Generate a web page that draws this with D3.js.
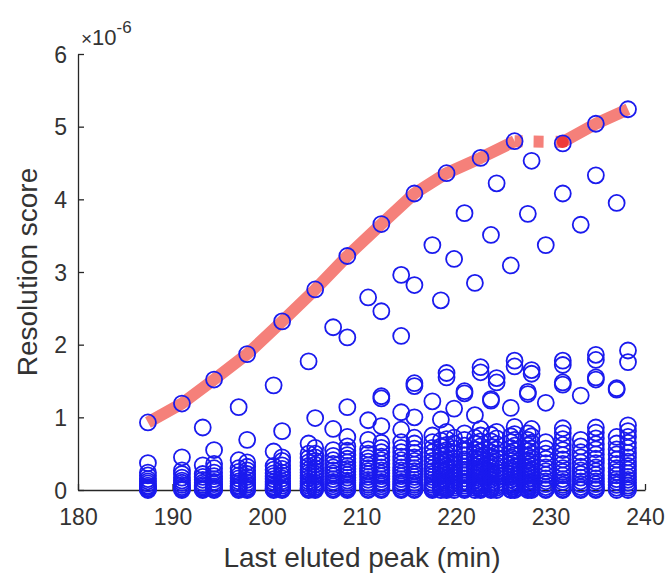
<!DOCTYPE html>
<html>
<head>
<meta charset="utf-8">
<script src="https://cdn.jsdelivr.net/npm/d3@7"></script>
<style>
  body { margin: 0; background: #fff; }
  text { font-family: "Liberation Sans", Arial, sans-serif; fill: #333; }
</style>
</head>
<body>
<div id="chart"></div>
<script>
"use strict";

// best (top) resolution score per last eluted peak
const bestTimes = [187.4, 191.0, 194.4, 197.9, 201.6, 205.1, 208.5, 212.1, 215.6, 219.0, 222.6, 226.2, 231.3, 234.8, 238.2]
const bestScores = [0.93, 1.19, 1.52, 1.87, 2.32, 2.76, 3.22, 3.66, 4.08, 4.36, 4.57, 4.80, 4.79, 5.04, 5.24]

// scatter columns (min) and the scores found in each column (x 1e-6)
const columnTimes = [187.4, 191.0, 193.2, 194.4, 197.0, 197.9, 200.7, 201.6, 204.4, 205.1,
    207.0, 208.5, 210.7, 212.1, 214.2, 215.6, 217.5, 218.4, 219.0, 219.8,
    220.9, 222.0, 222.6, 223.7, 224.3, 225.8, 226.2, 227.6, 228.0, 229.5,
    231.3, 233.2, 234.8, 237.0, 238.2]
const columnScores = [
    [0.93, 0.37, 0.24, 0.2, 0.15, 0.12, 0.09, 0.06, 0.04, 0.02, 0.01, 0.0],
    [1.19, 0.45, 0.27, 0.22, 0.17, 0.13, 0.1, 0.07, 0.04, 0.02, 0.0],
    [0.86, 0.34, 0.22, 0.18, 0.14, 0.1, 0.07, 0.05, 0.03, 0.01, 0.0],
    [1.52, 0.55, 0.36, 0.3, 0.24, 0.19, 0.15, 0.11, 0.08, 0.05, 0.03, 0.01, 0.0],
    [1.14, 0.41, 0.3, 0.25, 0.2, 0.16, 0.12, 0.09, 0.06, 0.04, 0.02, 0.0],
    [1.87, 0.69, 0.38, 0.32, 0.27, 0.22, 0.18, 0.14, 0.1, 0.07, 0.04, 0.02, 0.0],
    [1.44, 0.53, 0.33, 0.28, 0.23, 0.19, 0.15, 0.11, 0.08, 0.05, 0.03, 0.01, 0.0],
    [2.32, 0.81, 0.45, 0.4, 0.34, 0.29, 0.24, 0.2, 0.16, 0.12, 0.09, 0.06, 0.03, 0.01, 0.0],
    [1.77, 0.64, 0.5, 0.44, 0.38, 0.33, 0.28, 0.24, 0.2, 0.16, 0.12, 0.09, 0.06, 0.03, 0.01, 0.0],
    [2.76, 0.99, 0.58, 0.5, 0.45, 0.4, 0.35, 0.3, 0.26, 0.22, 0.18, 0.14, 0.1, 0.07, 0.04, 0.02, 0.0],
    [2.24, 0.84, 0.55, 0.47, 0.41, 0.36, 0.31, 0.27, 0.23, 0.19, 0.15, 0.11, 0.08, 0.05, 0.02, 0.0],
    [3.22, 2.10, 1.14, 0.73, 0.6, 0.54, 0.48, 0.43, 0.38, 0.33, 0.29, 0.25, 0.21, 0.17, 0.13, 0.1, 0.07, 0.04, 0.02, 0.0],
    [2.65, 0.96, 0.69, 0.56, 0.5, 0.44, 0.39, 0.34, 0.3, 0.26, 0.22, 0.18, 0.14, 0.1, 0.07, 0.04, 0.01, 0.0],
    [3.66, 2.46, 1.29, 1.26, 0.88, 0.65, 0.58, 0.52, 0.46, 0.41, 0.36, 0.31, 0.27, 0.23, 0.19, 0.15, 0.11, 0.08, 0.05, 0.02, 0.0],
    [2.96, 2.12, 1.07, 0.83, 0.66, 0.58, 0.52, 0.46, 0.41, 0.36, 0.31, 0.27, 0.23, 0.19, 0.15, 0.11, 0.08, 0.05, 0.02, 0.0],
    [4.08, 2.82, 1.47, 1.43, 1.0, 0.72, 0.64, 0.57, 0.51, 0.45, 0.4, 0.35, 0.3, 0.26, 0.22, 0.18, 0.14, 0.1, 0.07, 0.04, 0.01, 0.0],
    [3.37, 1.22, 0.75, 0.66, 0.58, 0.52, 0.46, 0.4, 0.35, 0.3, 0.26, 0.22, 0.18, 0.14, 0.1, 0.07, 0.04, 0.02, 0.0],
    [2.61, 0.97, 0.68, 0.6, 0.53, 0.47, 0.41, 0.36, 0.31, 0.27, 0.23, 0.19, 0.15, 0.12, 0.09, 0.06, 0.03, 0.0],
    [4.36, 1.61, 1.55, 0.8, 0.7, 0.62, 0.55, 0.49, 0.43, 0.38, 0.33, 0.29, 0.25, 0.21, 0.17, 0.13, 0.1, 0.07, 0.04, 0.02, 0.0],
    [3.18, 1.12, 0.72, 0.64, 0.57, 0.5, 0.44, 0.39, 0.34, 0.29, 0.25, 0.21, 0.17, 0.13, 0.09, 0.06, 0.03, 0.0],
    [3.81, 1.36, 1.33, 0.78, 0.69, 0.61, 0.54, 0.48, 0.42, 0.37, 0.32, 0.28, 0.24, 0.2, 0.16, 0.12, 0.09, 0.06, 0.03, 0.01, 0.0],
    [2.85, 1.03, 0.72, 0.64, 0.56, 0.5, 0.44, 0.38, 0.33, 0.29, 0.25, 0.21, 0.17, 0.13, 0.09, 0.06, 0.03, 0.0],
    [4.57, 1.62, 1.69, 0.84, 0.75, 0.67, 0.6, 0.53, 0.47, 0.42, 0.37, 0.32, 0.28, 0.24, 0.2, 0.16, 0.12, 0.09, 0.06, 0.03, 0.01, 0.0],
    [3.51, 1.25, 1.23, 0.76, 0.67, 0.59, 0.52, 0.46, 0.4, 0.35, 0.3, 0.26, 0.22, 0.18, 0.14, 0.1, 0.07, 0.04, 0.02, 0.0],
    [4.22, 1.48, 1.54, 0.8, 0.71, 0.63, 0.56, 0.5, 0.44, 0.39, 0.34, 0.29, 0.25, 0.21, 0.17, 0.13, 0.09, 0.06, 0.03, 0.0],
    [3.09, 1.13, 0.74, 0.66, 0.58, 0.51, 0.45, 0.4, 0.35, 0.3, 0.26, 0.22, 0.18, 0.14, 0.1, 0.07, 0.04, 0.01, 0.0],
    [4.80, 1.70, 1.78, 0.87, 0.77, 0.69, 0.61, 0.54, 0.48, 0.42, 0.37, 0.32, 0.28, 0.24, 0.2, 0.16, 0.12, 0.08, 0.05, 0.02, 0.0],
    [3.80, 1.35, 1.32, 0.78, 0.69, 0.61, 0.54, 0.47, 0.41, 0.36, 0.31, 0.27, 0.23, 0.19, 0.15, 0.11, 0.08, 0.05, 0.02, 0.0],
    [4.53, 1.60, 1.65, 0.84, 0.74, 0.65, 0.57, 0.5, 0.44, 0.38, 0.33, 0.28, 0.24, 0.2, 0.16, 0.12, 0.08, 0.05, 0.02, 0.0],
    [3.37, 1.20, 0.66, 0.57, 0.5, 0.43, 0.37, 0.31, 0.26, 0.21, 0.16, 0.12, 0.08, 0.04, 0.01, 0.0],
    [4.77, 4.08, 1.72, 1.78, 1.45, 1.48, 0.85, 0.78, 0.7, 0.62, 0.55, 0.48, 0.42, 0.36, 0.3, 0.25, 0.2, 0.15, 0.11, 0.07, 0.04, 0.01, 0.0],
    [3.65, 1.30, 0.69, 0.6, 0.52, 0.45, 0.38, 0.32, 0.27, 0.22, 0.17, 0.12, 0.08, 0.04, 0.01, 0.0],
    [5.04, 4.33, 1.79, 1.86, 1.52, 1.55, 0.86, 0.79, 0.71, 0.63, 0.56, 0.49, 0.43, 0.37, 0.31, 0.26, 0.21, 0.16, 0.12, 0.08, 0.04, 0.01, 0.0],
    [3.95, 1.40, 1.38, 0.73, 0.64, 0.56, 0.49, 0.42, 0.36, 0.3, 0.25, 0.2, 0.15, 0.11, 0.07, 0.03, 0.0],
    [5.24, 1.92, 1.76, 0.89, 0.81, 0.73, 0.65, 0.58, 0.51, 0.45, 0.39, 0.33, 0.28, 0.23, 0.18, 0.14, 0.1, 0.06, 0.03, 0.0]
]

const xTicks = [180, 190, 200, 210, 220, 230, 240]
const yTicks = [0, 1, 2, 3, 4, 5, 6]

const size = { width: 667, height: 574, left: 78, right: 645, top: 54, bottom: 490 }

const svg = d3.select("#chart").append("svg")
    .attr("width", size.width)
    .attr("height", size.height)

const scaleX = d3.scaleLinear().domain([180, 240]).range([size.left, size.right])
const scaleY = d3.scaleLinear().domain([0, 6]).range([size.bottom, size.top])

// axes (MATLAB style, ticks pointing inward, no box)
const xAxis = d3.axisBottom(scaleX).tickValues(xTicks).tickFormat(d3.format("d"))
    .tickSizeInner(-6).tickSizeOuter(0).tickPadding(19)
const yAxis = d3.axisLeft(scaleY).tickValues(yTicks).tickFormat(d3.format("d"))
    .tickSizeInner(-6).tickSizeOuter(0).tickPadding(11)

const gx = svg.append("g")
    .attr("transform", "translate(0," + size.bottom + ")")
    .call(xAxis)
const gy = svg.append("g")
    .attr("transform", "translate(" + size.left + ",0)")
    .call(yAxis)

svg.selectAll(".domain, .tick line").attr("stroke", "#262626").attr("stroke-width", 1.3)
gx.selectAll("text").style("font-size", "23px").attr("fill", "#333").attr("dy", "0.71em")
gy.selectAll("text").style("font-size", "23px").attr("fill", "#333").attr("dy", "0.35em")

// exponent label
const expo = svg.append("text")
    .attr("x", size.left + 3)
    .attr("y", 45)
    .style("font-size", "22px")
    .attr("fill", "#666")
expo.append("tspan").text("\u00d7").style("font-size", "19px")
expo.append("tspan").text("10")
expo.append("tspan").text("-6").attr("dy", -12).style("font-size", "17px")

// axis labels
svg.append("text")
    .attr("x", 362)
    .attr("y", 567)
    .attr("text-anchor", "middle")
    .style("font-size", "28px")
    .text("Last eluted peak (min)")

svg.append("text")
    .attr("transform", "translate(37,272) rotate(-90)")
    .attr("text-anchor", "middle")
    .style("font-size", "28px")
    .text("Resolution score")

// best score line, broken between 226 and 231 min
const line = d3.line()
    .x((d) => scaleX(d[0]))
    .y((d) => scaleY(d[1]))
const bestPoints = bestTimes.map((t, i) => [t, bestScores[i]])
const gapAt = bestTimes.indexOf(226.2)
const red = "#f5807a"

svg.append("path")
    .datum(bestPoints.slice(0, gapAt + 1))
    .attr("d", line)
    .attr("fill", "none")
    .attr("stroke", red)
    .attr("stroke-width", 12)
    .attr("stroke-linejoin", "round")

svg.append("path")
    .datum(bestPoints.slice(gapAt, gapAt + 2))
    .attr("d", line)
    .attr("fill", "none")
    .attr("stroke", red)
    .attr("stroke-width", 12)
    .attr("stroke-dasharray", "8,11,10,12,30")

svg.append("path")
    .datum(bestPoints.slice(gapAt + 1))
    .attr("d", line)
    .attr("fill", "none")
    .attr("stroke", red)
    .attr("stroke-width", 12)
    .attr("stroke-linejoin", "round")

svg.append("circle")
    .attr("cx", scaleX(bestTimes[gapAt + 1]))
    .attr("cy", scaleY(bestScores[gapAt + 1]))
    .attr("r", 6)
    .attr("fill", "#ef3a3a")

// all scored methods
const points = []
columnTimes.forEach((t, i) => {
    columnScores[i].forEach((s) => points.push({ t: t, s: s }))
})

svg.selectAll(".pt")
    .data(points)
    .enter()
    .append("circle")
    .attr("class", "pt")
    .attr("cx", (d) => scaleX(d.t))
    .attr("cy", (d) => scaleY(d.s))
    .attr("r", 8)
    .attr("fill", "none")
    .attr("stroke", "#1a1aee")
    .attr("stroke-width", 1.8)
</script>
</body>
</html>
